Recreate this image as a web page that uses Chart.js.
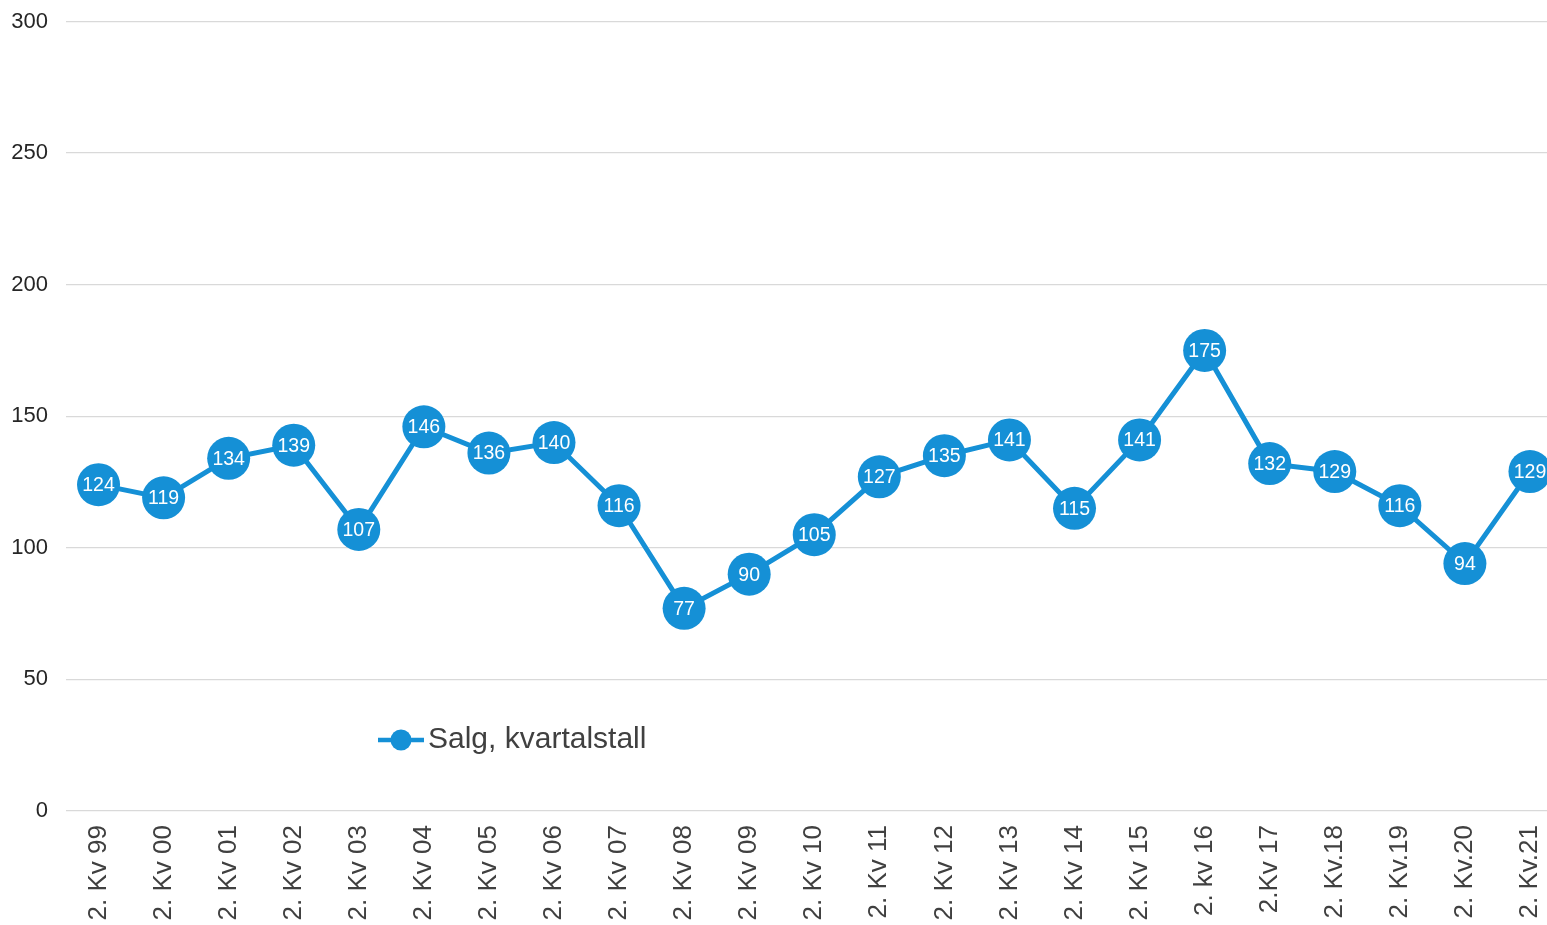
<!DOCTYPE html>
<html>
<head>
<meta charset="utf-8">
<script src="https://cdn.jsdelivr.net/npm/chart.js@4/dist/chart.umd.min.js"></script>
<style>
html,body{margin:0;padding:0;background:#fff;overflow:hidden;}
#wrap{position:relative;width:1584px;height:925px;}
</style>
</head>
<body>
<div id="wrap"><canvas id="c"></canvas></div>
<script>
const categories = ["2. Kv 99","2. Kv 00","2. Kv 01","2. Kv 02","2. Kv 03","2. Kv 04","2. Kv 05","2. Kv 06","2. Kv 07","2. Kv 08","2. Kv 09","2. Kv 10","2. Kv 11","2. Kv 12","2. Kv 13","2. Kv 14","2. Kv 15","2. kv 16","2.Kv 17","2. Kv.18","2. Kv.19","2. Kv.20","2. Kv.21"];
const salesValues = [124,119,134,139,107,146,136,140,116,77,90,105,127,135,141,115,141,175,132,129,116,94,129];
const seriesName = "Salg, kvartalstall";
const yTicks = [0,50,100,150,200,250,300];

const BLUE = "#1590d6";
const FONT = "'Liberation Sans', Arial, sans-serif";

const labelPlugin = {
  id: 'pointLabels',
  afterDatasetsDraw(chart) {
    const ctx = chart.ctx;
    const meta = chart.getDatasetMeta(0);
    ctx.save();
    ctx.fillStyle = '#ffffff';
    ctx.font = "19.5px " + FONT;
    ctx.textAlign = 'center';
    ctx.textBaseline = 'middle';
    meta.data.forEach((pt, i) => {
      ctx.fillText(String(chart.data.datasets[0].data[i]), pt.x, pt.y + 1);
    });
    ctx.restore();
  }
};

const legendPlugin = {
  id: 'customLegend',
  afterDraw(chart) {
    const ctx = chart.ctx;
    const x = 378, y = 740;
    ctx.save();
    ctx.strokeStyle = BLUE;
    ctx.lineWidth = 4.5;
    ctx.beginPath();
    ctx.moveTo(x, y); ctx.lineTo(x + 46, y);
    ctx.stroke();
    ctx.fillStyle = BLUE;
    ctx.beginPath();
    ctx.arc(x + 23, y, 10.5, 0, Math.PI * 2);
    ctx.fill();
    ctx.fillStyle = '#404040';
    ctx.font = "30px " + FONT;
    ctx.textAlign = 'left';
    ctx.textBaseline = 'middle';
    ctx.fillText(seriesName, x + 50, y);
    ctx.restore();
  }
};

new Chart(document.getElementById('c'), {
  type: 'line',
  data: {
    labels: categories,
    datasets: [{
      label: seriesName,
      data: salesValues,
      borderColor: BLUE,
      backgroundColor: BLUE,
      borderWidth: 5,
      pointRadius: 21.5,
      pointBorderWidth: 0,
      pointBackgroundColor: BLUE,
      pointHoverRadius: 21.5,
      tension: 0
    }]
  },
  options: {
    responsive: true,
    maintainAspectRatio: false,
    animation: false,
    layout: { padding: { top: 20, right: 0, left: 0, bottom: 0 } },
    plugins: { legend: { display: false }, tooltip: { enabled: false } },
    scales: {
      x: {
        offset: true,
        grid: { display: false, drawTicks: false },
        border: { display: false },
        ticks: {
          color: '#404040',
          font: { family: FONT, size: 26 },
          minRotation: 90, maxRotation: 90,
          autoSkip: false,
          padding: 14
        },
        afterFit(s) { s.height = 114; }
      },
      y: {
        min: 0, max: 300,
        afterBuildTicks(s) { s.ticks = yTicks.map(v => ({ value: v })); },
        grid: { color: '#d9d9d9', lineWidth: 1.3, drawTicks: false },
        border: { display: false },
        ticks: {
          color: '#262626',
          font: { family: FONT, size: 22 },
          padding: 18
        },
        afterFit(s) { s.width = 66; s.paddingTop = 0; s.paddingBottom = 0; }
      }
    }
  },
  plugins: [labelPlugin, legendPlugin]
});
</script>
</body>
</html>
